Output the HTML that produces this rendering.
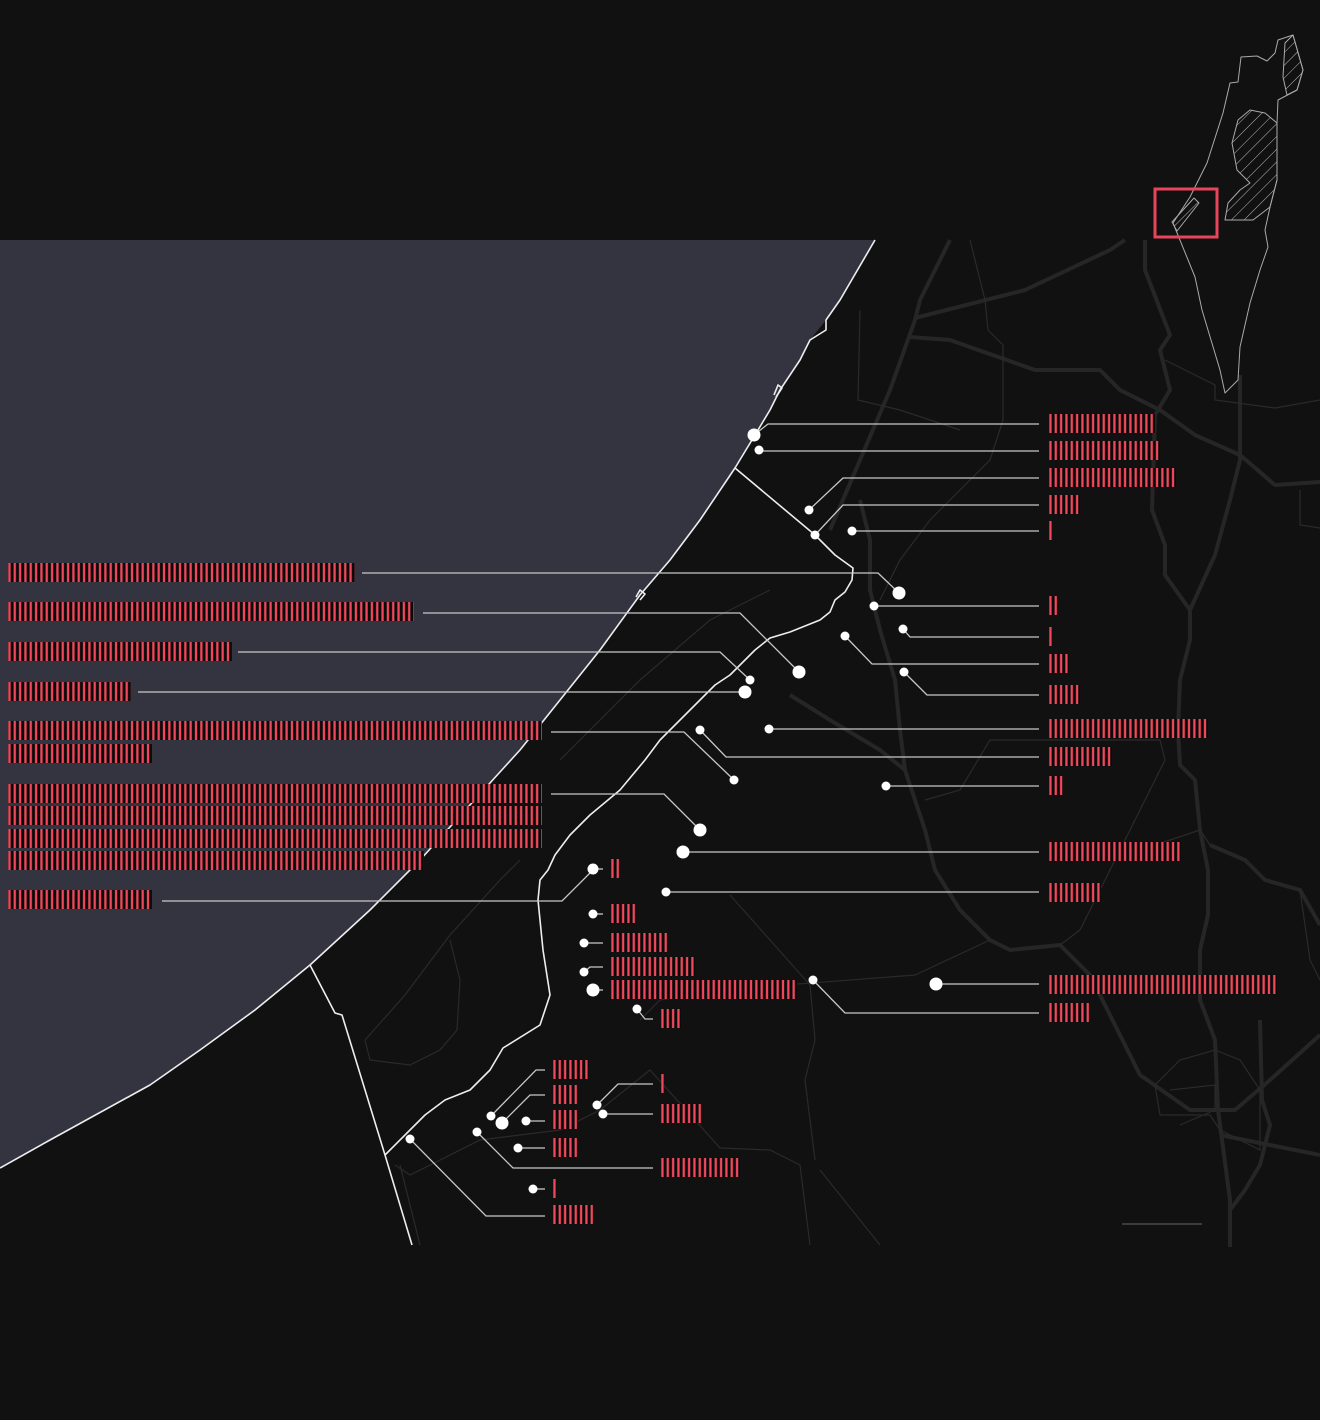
<!DOCTYPE html>
<html><head><meta charset="utf-8"><style>html,body{margin:0;padding:0;background:#111;}svg{display:block}</style></head>
<body>
<svg width="1320" height="1420" viewBox="0 0 1320 1420" xmlns="http://www.w3.org/2000/svg">
<defs>
<pattern id="p" patternUnits="userSpaceOnUse" width="5.33" height="20">
<rect x="0" y="0" width="5.33" height="20" fill="#0a0a0a"/>
<rect x="0.3" y="0" width="2.3" height="20" fill="#f2485c"/>
</pattern>
<pattern id="h" patternUnits="userSpaceOnUse" width="9" height="9" patternTransform="rotate(45)">
<line x1="0" y1="0" x2="0" y2="9" stroke="#bbb" stroke-width="1"/>
</pattern>
</defs>
<rect width="1320" height="1420" fill="#111"/>
<path d="M0,240 L875,240 L840,300 L826,320 L810,340 L800,360 L780,390 L770,410 L755,435 L735,468 L700,520 L670,560 L640,595 L600,650 L560,700 L520,750 L470,805 L420,860 L370,910 L310,965 L255,1010 L200,1050 L150,1085 L50,1140 L0,1168 Z" fill="#343440"/>
<g fill="none" stroke="#262626" stroke-width="4" stroke-linejoin="round">
<polyline points="950,240 920,300 915,320 890,390 860,460 830,530"/>
<polyline points="915,318 1025,290 1110,250 1125,240"/>
<polyline points="910,337 950,340 1035,370 1100,370 1120,390 1160,410 1195,435 1240,455 1275,485 1320,482"/>
<polyline points="1145,240 1145,270 1170,335 1160,350 1170,390 1155,415 1152,510 1165,545 1165,575 1190,610 1190,640 1180,680 1178,730 1180,765 1195,780 1200,830 1208,870 1208,915 1200,950 1200,1000 1215,1040 1218,1110 1230,1200 1230,1247"/>
<polyline points="790,695 830,720 880,750 905,770 915,800 925,830 935,870 960,910 990,940 1010,950 1060,945 1090,975 1140,1075 1190,1110 1235,1110 1270,1080 1320,1035"/>
<polyline points="1240,375 1240,460 1230,500 1215,555 1190,610"/>
<polyline points="1210,845 1245,860 1265,880 1300,890 1320,925"/>
<polyline points="1260,1020 1262,1100 1270,1125 1260,1165 1245,1190 1230,1210"/>
<polyline points="1220,1135 1320,1155"/>
<polyline points="860,500 870,540 870,590 880,630 895,680 900,730 905,770"/>
</g>
<g fill="none" stroke="#2a2a2a" stroke-width="1.2">
<polyline points="970,240 985,300 988,330 1003,345 1003,420 990,460 930,520 900,560 880,600"/>
<polyline points="860,310 858,400 900,410 960,430"/>
<polyline points="1165,360 1215,385 1215,400 1275,408 1320,400"/>
<polyline points="1300,490 1300,525 1320,528"/>
<polyline points="770,590 710,620 640,680 560,760"/>
<polyline points="810,1245 800,1165 770,1150 720,1148 650,1070 600,1110 560,1130 480,1140 410,1175 395,1165"/>
<polyline points="520,860 500,880 450,935 405,995 365,1040 370,1060 410,1065 440,1050 457,1030 460,980 450,940"/>
<polyline points="730,895 770,940 810,985 815,1040 805,1080 815,1160"/>
<polyline points="640,1020 660,1000 720,990 915,975 990,940"/>
<polyline points="925,800 960,790 990,740 1060,740 1160,740 1165,760 1110,870 1080,930 1060,945"/>
<polyline points="1110,860 1200,830 1210,845"/>
<polyline points="1155,1085 1180,1060 1215,1050 1240,1060 1260,1090 1260,1150 1220,1130 1210,1115 1160,1115 1155,1085"/>
<polyline points="1170,1090 1215,1085 1215,1110 1180,1125"/>
<polyline points="1300,890 1310,960 1320,980"/>
<polyline points="400,1165 420,1245"/>
<polyline points="820,1170 880,1245"/>
</g>
<g fill="none" stroke="#eee" stroke-width="1.6" stroke-linejoin="round">
<polyline points="875,240 840,300 826,320 826,330 810,340 800,360 780,390 770,410 755,435 735,468 700,520 670,560 640,595 600,650 560,700 520,750 470,805 420,860 370,910 310,965 255,1010 200,1050 150,1085 50,1140 0,1168"/>
<polyline points="735,468 815,535 835,555 853,568 852,580 845,592 835,600 830,612 820,620 790,632 770,638 755,650 740,665 730,675 715,685 700,700 680,720 660,740 645,760 620,790 590,815 570,835 555,855 548,870 540,880 538,900 543,950 550,995 540,1025 503,1048 490,1070 470,1090 445,1100 425,1115 385,1155"/>
<polyline points="310,965 335,1013 342,1015 385,1155 412,1245"/>
<polyline points="774,395 778,385 782,388 776,397"/>
<polyline points="636,597 640,590 645,594 640,600"/>
</g>
<g fill="none" stroke="#c8c8c8" stroke-width="1.3">
<polyline points="754,435 768,424 1039,424"/>
<polyline points="759,451 1039,451"/>
<polyline points="809,510 843,478 1039,478"/>
<polyline points="815,535 843,505 1039,505"/>
<polyline points="852,531 1039,531"/>
<polyline points="874,606 1039,606"/>
<polyline points="903,629 910,637 1039,637"/>
<polyline points="845,636 872,664 1039,664"/>
<polyline points="904,672 927,695 1039,695"/>
<polyline points="769,729 1039,729"/>
<polyline points="700,730 726,757 1039,757"/>
<polyline points="886,786 1039,786"/>
<polyline points="683,852 1039,852"/>
<polyline points="666,892 1039,892"/>
<polyline points="936,984 1039,984"/>
<polyline points="813,980 845,1013 1039,1013"/>
<polyline points="362,573 878,573 899,593"/>
<polyline points="423,613 740,613 799,672"/>
<polyline points="238,652 720,652 750,680"/>
<polyline points="138,692 745,692"/>
<polyline points="551,732 684,732 734,780"/>
<polyline points="551,794 664,794 700,830"/>
<polyline points="162,901 562,901 593,870"/>
<polyline points="593,869 603,869"/>
<polyline points="593,914 603,914"/>
<polyline points="584,943 603,943"/>
<polyline points="584,972 590,967 603,967"/>
<polyline points="593,990 603,990"/>
<polyline points="637,1009 645,1019 653,1019"/>
<polyline points="491,1116 536,1070 545,1070"/>
<polyline points="502,1123 530,1095 545,1095"/>
<polyline points="526,1121 545,1121"/>
<polyline points="518,1148 545,1148"/>
<polyline points="477,1132 513,1168 653,1168"/>
<polyline points="533,1189 545,1189"/>
<polyline points="410,1139 486,1216 545,1216"/>
<polyline points="597,1105 618,1084 653,1084"/>
<polyline points="603,1114 653,1114"/>
</g>
<g fill="#fff">
<circle cx="754" cy="435" r="6.5"/><circle cx="759" cy="450" r="4.5"/><circle cx="809" cy="510" r="4.5"/>
<circle cx="815" cy="535" r="4.5"/><circle cx="852" cy="531" r="4.5"/><circle cx="899" cy="593" r="6.5"/>
<circle cx="874" cy="606" r="4.5"/><circle cx="903" cy="629" r="4.5"/><circle cx="845" cy="636" r="4.5"/>
<circle cx="904" cy="672" r="4.5"/><circle cx="799" cy="672" r="6.5"/><circle cx="750" cy="680" r="4.5"/>
<circle cx="745" cy="692" r="6.5"/><circle cx="769" cy="729" r="4.5"/><circle cx="700" cy="730" r="4.5"/>
<circle cx="734" cy="780" r="4.5"/><circle cx="886" cy="786" r="4.5"/><circle cx="700" cy="830" r="6.5"/>
<circle cx="683" cy="852" r="6.5"/><circle cx="593" cy="869" r="5.5"/><circle cx="666" cy="892" r="4.5"/>
<circle cx="593" cy="914" r="4.5"/><circle cx="584" cy="943" r="4.5"/><circle cx="584" cy="972" r="4.5"/>
<circle cx="593" cy="990" r="6.5"/><circle cx="637" cy="1009" r="4.5"/><circle cx="813" cy="980" r="4.5"/>
<circle cx="936" cy="984" r="6.5"/><circle cx="491" cy="1116" r="4.5"/><circle cx="502" cy="1123" r="6.5"/>
<circle cx="526" cy="1121" r="4.5"/><circle cx="518" cy="1148" r="4.5"/><circle cx="477" cy="1132" r="4.5"/>
<circle cx="533" cy="1189" r="4.5"/><circle cx="410" cy="1139" r="4.5"/><circle cx="597" cy="1105" r="4.5"/>
<circle cx="603" cy="1114" r="4.5"/>
</g>
<g fill="url(#p)">
<rect transform="translate(1049,414)" width="106" height="19"/>
<rect transform="translate(1049,441)" width="111" height="19"/>
<rect transform="translate(1049,468)" width="127" height="19"/>
<rect transform="translate(1049,495)" width="31" height="19"/>
<rect transform="translate(1049,521)" width="3" height="19"/>
<rect transform="translate(1049,596)" width="9" height="19"/>
<rect transform="translate(1049,627)" width="3" height="19"/>
<rect transform="translate(1049,654)" width="20" height="19"/>
<rect transform="translate(1049,685)" width="31" height="19"/>
<rect transform="translate(1049,719)" width="159" height="19"/>
<rect transform="translate(1049,747)" width="63" height="19"/>
<rect transform="translate(1049,776)" width="14" height="19"/>
<rect transform="translate(1049,842)" width="132" height="19"/>
<rect transform="translate(1049,883)" width="52" height="19"/>
<rect transform="translate(1049,975)" width="228" height="19"/>
<rect transform="translate(1049,1003)" width="41" height="19"/>
<rect transform="translate(8,563)" width="347" height="19"/>
<rect transform="translate(8,602)" width="406" height="19"/>
<rect transform="translate(8,642)" width="224" height="19"/>
<rect transform="translate(8,682)" width="123" height="19"/>
<rect transform="translate(8,721)" width="534" height="19"/>
<rect transform="translate(8,744)" width="144" height="19"/>
<rect transform="translate(8,784)" width="534" height="19"/>
<rect transform="translate(8,806)" width="534" height="19"/>
<rect transform="translate(8,829)" width="534" height="19"/>
<rect transform="translate(8,851)" width="416" height="19"/>
<rect transform="translate(8,890)" width="144" height="19"/>
<rect transform="translate(611,859)" width="9" height="19"/>
<rect transform="translate(611,904)" width="25" height="19"/>
<rect transform="translate(611,933)" width="57" height="19"/>
<rect transform="translate(611,957)" width="84" height="19"/>
<rect transform="translate(611,980)" width="186" height="19"/>
<rect transform="translate(661,1009)" width="20" height="19"/>
<rect transform="translate(553,1060)" width="36" height="19"/>
<rect transform="translate(553,1085)" width="25" height="19"/>
<rect transform="translate(553,1110)" width="25" height="19"/>
<rect transform="translate(553,1138)" width="25" height="19"/>
<rect transform="translate(661,1158)" width="79" height="19"/>
<rect transform="translate(553,1179)" width="3" height="19"/>
<rect transform="translate(553,1205)" width="41" height="19"/>
<rect transform="translate(661,1074)" width="3" height="19"/>
<rect transform="translate(661,1104)" width="41" height="19"/>
</g>
<line x1="1122" y1="1224" x2="1202" y2="1224" stroke="#555" stroke-width="1.2"/>
<g stroke="#aaa" stroke-width="1" fill="none" stroke-linejoin="round">
<polygon points="1241,57 1257,56 1267,61 1275,53 1278,40 1293,35 1303,70 1297,90 1278,100 1277,123 1277,180 1270,207 1265,230 1268,247 1260,270 1250,303 1240,347 1238,380 1225,393 1220,370 1202,310 1195,277 1173,223 1190,197 1207,163 1223,113 1230,83 1238,82"/>
<polygon points="1250,110 1265,113 1277,123 1277,180 1270,207 1253,220 1240,220 1225,220 1228,203 1240,190 1250,183 1237,170 1232,143 1238,120" fill="url(#h)"/>
<polygon points="1285,43 1293,35 1303,70 1297,90 1287,95 1283,77" fill="url(#h)"/>
<polygon points="1172,222 1194,198 1199,203 1177,231" fill="url(#h)"/>
</g>
<rect x="1155" y="189" width="62" height="48" fill="none" stroke="#e8455a" stroke-width="3"/>
</svg>
</body></html>
